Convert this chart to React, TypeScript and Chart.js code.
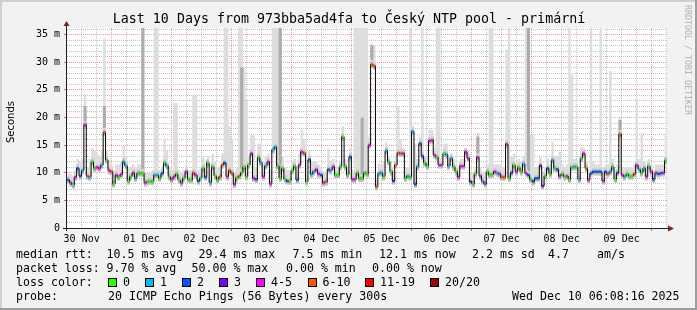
import React, { useEffect, useRef } from 'react';
import { Chart, registerables } from 'chart.js';

Chart.register(...registerables);

// ---------- data ----------
const chartTitle = 'Last 10 Days from 973bba5ad4fa to Český NTP pool - primární';
const spanHours = 240; // 30 Nov 06:08:16 -> 10 Dec 06:08:16
const startMs = Date.UTC(2025, 10, 30, 6, 8, 16);
const firstNoonMs = Date.UTC(2025, 10, 30, 12, 0, 0);
const xTickLabels = ['30 Nov', '01 Dec', '02 Dec', '03 Dec', '04 Dec', '05 Dec', '06 Dec', '07 Dec', '08 Dec', '09 Dec'];
const yMax = 36.2;

// median rtt (ms), one value per consolidated step
const median = [
  8.7, 8.2, 7.8, 9.2, 10.8, 9.4, 10.4, 18.7, 9.4, 9.2,
  12, 10.8, 11, 10.8, 11.4, 17.3, 12.3, 10.4, 10.2, 8,
  9.6, 9.2, 9.7, 12, 11.2, 8.5, 9.3, 10, 9, 10,
  9.9, 9.9, 8.2, 8.4, 8.5, 8.4, 9.6, 9.6, 9, 9.9,
  11.8, 11.2, 9.3, 8.8, 9.3, 9.8, 8.7, 8.2, 9, 10.2,
  8.8, 8.7, 10, 9.6, 8.5, 9, 10.8, 9.2, 11.8, 8.2,
  11.1, 9.4, 8.7, 9.3, 11.4, 11.8, 9.3, 10.4, 9.9, 7.9,
  9.1, 9.4, 10, 11, 9.3, 11.4, 13.5, 9, 8.8, 12.8,
  11.9, 9.3, 11.2, 12, 8, 14.2,
  14.7, 11.2, 9, 10.8, 8.8, 8.5, 8.5, 10.4, 11.2, 8.7,
  11.4, 13.8, 13.5, 8.4, 12.4, 9.7, 10.2, 10.6, 9.8, 9.6,
  8.2, 8.4, 10.6, 10.4, 11.1, 9.6, 9.6, 11.1, 16.5, 11.1,
  9.6, 12.9, 8.8, 8.8, 10, 9, 9, 10, 9.8, 15,
  29.6, 29.3, 7.5, 9.9, 10, 9.3, 14, 12, 10.2, 8.5,
  11.4, 13.6, 13.5, 13.5, 9, 9.4, 9.2, 17.5, 7.9, 11.1,
  15.3, 13, 11.8, 11.2, 15.8, 15.9, 13.2, 12.9, 11.4, 11.4,
  13.5, 13.3, 11.2, 12.6, 11.1, 10.2, 9.2, 11.2, 11.2, 13.8,
  12.6, 8.4, 8, 9.8,
  12.8, 9.4, 8.5, 8, 10.2, 9.6, 9.7, 10.2, 10, 9.8,
  9.2, 9.2, 15.2, 9, 10, 11.4, 10.2, 11, 10.2, 11.6,
  9.9, 9.6, 8.8, 8.4, 9, 9, 11.3, 7.6, 9.4, 10.8,
  9.8, 12.3, 10.8, 10.6, 9.4, 9.8, 9.3, 9.4, 8.8, 11,
  11.1, 11.1, 8.8, 12.6, 13.5, 10.8, 8.7, 9.9, 10.2, 10.2,
  10.2, 10.2, 8.5, 10.2, 9.8, 10.2, 11.1, 8.8, 10, 17,
  9.6, 9.3, 9.8, 9.4, 9.4, 9.8, 11.4, 10.6, 10, 10.8,
  9.3, 11.2, 10.2, 8.8, 10, 9.8, 9.9, 10, 12.2,
];

// loss class per step: 0..7 -> 0, 1, 2, 3, 4-5, 6-10, 11-19, 20/20
const loss = [
  2, 4, 0, 4, 2, 2, 1, 4, 5, 1,
  0, 0, 4, 4, 1, 5, 0, 4, 5, 0,
  4, 0, 4, 1, 1, 0, 0, 4, 1, 0,
  0, 0, 4, 0, 0, 0, 1, 1, 0, 2,
  0, 1, 0, 4, 4, 0, 0, 4, 0, 4,
  0, 0, 5, 4, 2, 0, 0, 2, 0, 1,
  0, 0, 0, 5, 5, 2, 4, 5, 5, 4,
  0, 5, 0, 0, 0, 0, 4, 4, 2, 0,
  1, 4, 1, 4, 4, 1,
  1, 0, 0, 0, 0, 2, 0, 0, 0, 2,
  4, 4, 5, 0, 2, 1, 1, 4, 4, 2,
  4, 5, 2, 1, 4, 0, 0, 0, 0, 0,
  0, 2, 4, 4, 0, 0, 0, 0, 0, 4,
  5, 5, 5, 1, 1, 0, 1, 0, 0, 3,
  5, 5, 5, 4, 0, 1, 0, 1, 2, 1,
  2, 2, 0, 0, 4, 4, 4, 0, 4, 4,
  0, 1, 1, 1, 0, 0, 4, 4, 4, 4,
  4, 3, 0, 0,
  4, 4, 1, 4, 0, 0, 0, 4, 1, 4,
  5, 5, 4, 0, 2, 0, 4, 0, 0, 1,
  4, 2, 0, 2, 2, 2, 3, 3, 0, 2,
  0, 1, 0, 2, 4, 0, 0, 4, 0, 0,
  1, 0, 1, 0, 4, 5, 4, 2, 2, 2,
  2, 2, 4, 2, 5, 1, 0, 0, 2, 5,
  4, 1, 0, 0, 0, 5, 4, 1, 0, 1,
  4, 0, 4, 2, 4, 2, 2, 4, 0,
];

// top of the light smoke (slowest pings), ms
const smokeTop = [
  10, 9.8, 9.5, 10.5, 12.5, 12, 12.5, 24.3, 11, 12.5,
  14.5, 14, 13.5, 13, 14, 34.3, 14, 12.5, 11.5, 10.5,
  11.5, 11.5, 12, 14.9, 13, 11, 11, 11.5, 11, 11.5,
  11.5, 37, 10, 10, 10, 10.5, 37, 37, 10.5, 11,
  16, 14, 11, 10.5, 22.6, 22.6, 10.5, 10, 10.5, 11.5,
  10.5, 10.5, 24.1, 24.1, 10.5, 11, 13, 11, 13, 10.5,
  13.5, 12, 11, 11, 13.5, 37, 37, 18.4, 16, 10,
  11, 37, 37, 29, 23, 13, 16.8, 16.8, 11, 15.3,
  15.3, 11.5, 13, 13.5, 10.5, 37,
  37, 37, 37, 13, 11, 10.5, 10.5, 12, 12.5, 10.5,
  13.5, 17.8, 16, 10.5, 14, 12, 12, 12, 11.5, 11,
  10, 10, 14.4, 12, 12.5, 11, 11, 12, 18.4, 12.5,
  11, 14.5, 10.5, 37, 37, 37, 37, 37, 37, 16.5,
  33.5, 33, 9, 11.7, 11.5, 12, 15.5, 13, 12, 10.5,
  13, 22, 16, 14.5, 11, 11, 37, 18.5, 15.3, 12.5,
  16.5, 37, 13, 13, 17.8, 17.8, 14.5, 37, 37, 12.5,
  15.3, 15.3, 13, 13.5, 12.5, 11.5, 11, 12.5, 12.5, 14.5,
  14.1, 10, 10, 11,
  17.2, 11, 10, 10, 11.5, 37, 37, 11.5, 11.5, 11.5,
  11, 11, 32.3, 37, 13, 13.5, 12, 12.5, 12, 13,
  37, 37, 16.8, 17, 11, 11, 12.9, 10, 11, 12.5,
  11.5, 15.6, 13, 13, 13.8, 11.5, 11, 11.5, 37, 27.8,
  12.5, 12.5, 11, 14.7, 14.5, 12, 10.5, 37, 12, 11.5,
  11.5, 37, 11, 11.5, 11.5, 28.4, 12.5, 10.5, 11.5, 19.9,
  11, 11, 11, 11, 11, 11.5, 23.5, 12.5, 17.2, 12,
  11, 12.5, 11.5, 10.5, 11.5, 11.5, 11.5, 11.5, 17.2,
];

// denser (mid grey) smoke columns: step index and top (ms)
const darkIdx = [7, 15, 31, 72, 88, 122, 126, 170, 191, 229];
const darkTop = [22, 22, 37, 29, 37, 19.9, 33, 16.5, 37, 19.5];

const lossColors = ['#26ff00', '#00b8ff', '#0059ff', '#7e00ff', '#ff00ff', '#ff5500', '#ff0000', '#a10000'];
const lossLabels = ['0', '1', '2', '3', '4-5', '6-10', '11-19', '20/20'];

const rttStats = ['10.5 ms avg', '29.4 ms max', '7.5 ms min', '12.1 ms now', '2.2 ms sd', '4.7', 'am/s'];
const lossStats = ['9.70 % avg', '50.00 % max', '0.00 % min', '0.00 % now'];
const probeText = '20 ICMP Echo Pings (56 Bytes) every 300s';
const stampText = 'Wed Dec 10 06:08:16 2025';

// ---------- styles ----------
const MONO = "'DejaVu Sans Mono', monospace";
const GRID = 'rgba(143,143,143,0.55)';
const MGRID = 'rgba(222,79,79,0.55)';
const W = 697;
const H = 310;

const rttX = [106.5, 198.5, 292.5, 379, 472, 548, 597];
const lossX = [106.5, 191.5, 286, 372];
const boxX = [108, 145, 182, 219, 256, 307.5, 365, 430];
const boxLabelX = [123, 160, 197, 234, 271, 322.5, 380, 445];

export default function App() {
  const ref = useRef<HTMLCanvasElement>(null);

  useEffect(() => {
    const canvas = ref.current;
    if (!canvas) return;
    const n = median.length;
    const hourAt = (i: number) => ((i + 0.5) * spanHours) / n;
    const noon0 = (firstNoonMs - startMs) / 3.6e6;
    const tickHours: number[] = [];
    for (let h = noon0; h <= spanHours; h += 6) tickHours.push(h);
    const isMidnight = (v: number) => Math.abs((((v - noon0) % 24) + 24) % 24 - 12) < 0.01;
    const noonIndex = (v: number) => {
      const k = Math.round((v - noon0) / 24);
      return Math.abs(v - noon0 - 24 * k) < 0.01 ? k : -1;
    };
    const yTicks = Array.from({ length: 37 }, (_, i) => i);

    // grey halo marker around the median (dense smoke)
    const halo = document.createElement('canvas');
    halo.width = 3;
    halo.height = 8;
    const hc = halo.getContext('2d')!;
    const g = hc.createLinearGradient(0, 0, 0, 8);
    g.addColorStop(0, 'rgba(222,222,222,1)');
    g.addColorStop(0.3, 'rgba(190,190,190,1)');
    g.addColorStop(0.5, 'rgba(140,140,140,1)');
    g.addColorStop(0.7, 'rgba(165,165,165,1)');
    g.addColorStop(1, 'rgba(232,232,232,1)');
    hc.fillStyle = g;
    hc.fillRect(0, 0, 3, 8);

    const medianPts = median.map((v, i) => ({ x: hourAt(i), y: v }));

    const bgPlugin = {
      id: 'rrdBackground',
      beforeDraw(chart: any) {
        const { ctx, chartArea } = chart;
        ctx.save();
        ctx.fillStyle = '#f2f2f2';
        ctx.fillRect(0, 0, W, H);
        ctx.fillStyle = '#cfcfcf';
        ctx.fillRect(0, 0, W, 2);
        ctx.fillRect(0, 0, 2, H);
        ctx.fillStyle = '#9e9e9e';
        ctx.fillRect(0, H - 2, W, 2);
        ctx.fillRect(W - 2, 0, 2, H);
        ctx.fillStyle = '#ffffff';
        ctx.fillRect(chartArea.left, chartArea.top, chartArea.right - chartArea.left, chartArea.bottom - chartArea.top);
        ctx.restore();
      },
    };

    const axisPlugin = {
      id: 'rrdAxes',
      afterDraw(chart: any) {
        const { ctx, chartArea } = chart;
        const { left, right, top, bottom } = chartArea;
        ctx.save();
        ctx.strokeStyle = '#1f1f1f';
        ctx.lineWidth = 1;
        ctx.beginPath();
        ctx.moveTo(left - 0.5, bottom + 3);
        ctx.lineTo(left - 0.5, top - 3);
        ctx.moveTo(left - 4, bottom + 0.5);
        ctx.lineTo(right + 2, bottom + 0.5);
        ctx.stroke();
        ctx.fillStyle = '#801f1f';
        ctx.beginPath();
        ctx.moveTo(left - 3.5, top - 2);
        ctx.lineTo(left + 2.5, top - 2);
        ctx.lineTo(left - 0.5, top - 7);
        ctx.closePath();
        ctx.fill();
        ctx.beginPath();
        ctx.moveTo(right + 1, bottom - 2.5);
        ctx.lineTo(right + 1, bottom + 3.5);
        ctx.lineTo(right + 7, bottom + 0.5);
        ctx.closePath();
        ctx.fill();
        ctx.restore();
      },
    };

    const chart = new Chart(canvas, {
      type: 'line',
      data: {
        datasets: [
          {
            type: 'line',
            label: 'smoke',
            data: smokeTop.map((v, i) => ({ x: hourAt(i), y: v })),
            stepped: 'middle',
            borderWidth: 0,
            borderColor: 'rgba(0,0,0,0)',
            pointRadius: 0,
            fill: 3,
            backgroundColor: '#dddddd',
            order: 3,
          },
          {
            type: 'bar',
            label: 'dense smoke',
            data: darkIdx.map((idx, k) => ({ x: hourAt(idx), y: [median[idx], darkTop[k]] })),
            backgroundColor: '#acacac',
            borderWidth: 0,
            barThickness: 2.5,
            grouped: false,
            order: 2,
          },
          {
            type: 'line',
            label: 'halo',
            data: medianPts,
            showLine: false,
            pointStyle: halo,
            pointRadius: 3,
            order: 1,
          },
          {
            type: 'line',
            label: 'median rtt',
            data: medianPts,
            stepped: 'middle',
            borderColor: '#000000',
            borderWidth: 1,
            fill: false,
            pointStyle: 'rect',
            pointRadius: 1.5,
            pointBorderWidth: 0,
            pointBorderColor: 'rgba(0,0,0,0)',
            pointBackgroundColor: loss.map((l) => lossColors[l]),
            order: 0,
          },
        ] as any,
      },
      options: {
        animation: false,
        responsive: false,
        maintainAspectRatio: false,
        events: [],
        layout: { padding: { top: 28, right: 30, bottom: 0, left: 0 } },
        plugins: {
          legend: { display: false },
          tooltip: { enabled: false },
          title: { display: false },
          filler: { propagate: false },
        },
        scales: {
          x: {
            type: 'linear',
            min: 0,
            max: spanHours,
            offset: false,
            afterBuildTicks: (s: any) => {
              s.ticks = tickHours.map((v) => ({ value: v }));
            },
            afterFit: (s: any) => {
              s.height = 82;
            },
            grid: {
              offset: false,
              color: (c: any) => (c.tick && isMidnight(c.tick.value) ? MGRID : GRID),
              lineWidth: 1,
              drawTicks: true,
              tickLength: 3,
              tickColor: (c: any) => (c.tick && isMidnight(c.tick.value) ? 'rgba(222,79,79,0.9)' : 'rgba(0,0,0,0)'),
            },
            border: { display: false, dash: [1, 1] },
            ticks: {
              autoSkip: false,
              maxRotation: 0,
              minRotation: 0,
              padding: 2,
              color: '#000',
              font: { family: MONO, size: 10 },
              callback: (v: any) => {
                const k = noonIndex(Number(v));
                return k >= 0 && k < xTickLabels.length ? xTickLabels[k] : '';
              },
            },
          },
          y: {
            type: 'linear',
            min: 0,
            max: yMax,
            afterBuildTicks: (s: any) => {
              s.ticks = yTicks.map((v) => ({ value: v }));
            },
            afterFit: (s: any) => {
              s.width = 67;
            },
            grid: {
              color: (c: any) => {
                const v = c.tick ? c.tick.value : -1;
                if (v === 0) return 'rgba(0,0,0,0)';
                return v % 5 === 0 ? MGRID : GRID;
              },
              lineWidth: 1,
              tickLength: 3,
              tickColor: (c: any) => {
                const v = c.tick ? c.tick.value : -1;
                return v % 5 === 0 && v > 0 ? 'rgba(222,79,79,0.9)' : 'rgba(0,0,0,0)';
              },
            },
            border: { display: false, dash: [1, 1] },
            ticks: {
              autoSkip: false,
              padding: 4,
              color: '#000',
              font: { family: MONO, size: 10 },
              callback: (v: any) => {
                const n2 = Number(v);
                if (n2 % 5 !== 0) return '';
                return n2 === 0 ? '0' : `${n2} m`;
              },
            },
          },
        },
      } as any,
      plugins: [bgPlugin, axisPlugin],
    });
    return () => chart.destroy();
  }, []);

  const txt = (left: number, top: number, s: string, extra: React.CSSProperties = {}) => (
    <div
      style={{
        position: 'absolute',
        left,
        top,
        fontFamily: MONO,
        fontSize: 11.6,
        lineHeight: '14px',
        whiteSpace: 'pre',
        color: '#000',
        ...extra,
      }}
    >
      {s}
    </div>
  );

  return (
    <div style={{ position: 'fixed', left: 0, top: 0, width: W, height: H, overflow: 'hidden', background: '#f2f2f2' }}>
      <canvas ref={ref} width={W} height={H} style={{ position: 'absolute', left: 0, top: 0, width: W, height: H }} />
      <div
        style={{
          position: 'absolute',
          left: 349,
          top: 11,
          transform: 'translateX(-50%)',
          fontFamily: MONO,
          fontSize: 13.3,
          lineHeight: '16px',
          whiteSpace: 'pre',
          color: '#000',
        }}
      >
        {chartTitle}
      </div>
      <div
        style={{
          position: 'absolute',
          left: 11,
          top: 122,
          transform: 'translate(-50%, -50%) rotate(-90deg)',
          fontFamily: "'DejaVu Sans', sans-serif",
          fontSize: 10,
          lineHeight: '12px',
          whiteSpace: 'pre',
          color: '#000',
        }}
      >
        Seconds
      </div>
      <div
        style={{
          position: 'absolute',
          left: 692.5,
          top: 5,
          transformOrigin: 'left top',
          transform: 'rotate(90deg)',
          fontFamily: MONO,
          fontSize: 8.3,
          lineHeight: '10px',
          whiteSpace: 'pre',
          color: '#b0b0b0',
        }}
      >
        RRDTOOL / TOBI OETIKER
      </div>

      {txt(16, 247, 'median rtt:')}
      {rttStats.map((s, i) => (
        <React.Fragment key={'r' + i}>{txt(rttX[i], 247, s)}</React.Fragment>
      ))}
      {txt(16, 261, 'packet loss:')}
      {lossStats.map((s, i) => (
        <React.Fragment key={'l' + i}>{txt(lossX[i], 261, s)}</React.Fragment>
      ))}
      {txt(16, 275, 'loss color:')}
      {lossLabels.map((s, i) => (
        <React.Fragment key={'c' + i}>
          <div
            style={{
              position: 'absolute',
              left: boxX[i],
              top: 278,
              width: 7,
              height: 7,
              background: lossColors[i],
              border: '1px solid #000',
            }}
          />
          {txt(boxLabelX[i], 275, s)}
        </React.Fragment>
      ))}
      {txt(16, 289, 'probe:')}
      {txt(108, 289, probeText)}
      {txt(512, 289, stampText)}
    </div>
  );
}
